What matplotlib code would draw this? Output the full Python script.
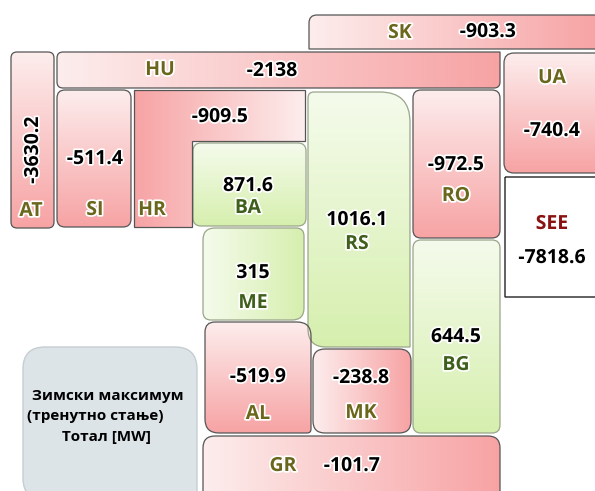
import numpy as np
import matplotlib
matplotlib.use('Agg')
import matplotlib.pyplot as plt
from matplotlib.path import Path
from matplotlib.patches import PathPatch
import matplotlib.patheffects as pe

# data: winter peak balance per country [MW]
codes = ['SK', 'HU', 'AT', 'SI', 'HR', 'BA', 'RS', 'RO', 'UA',
         'ME', 'BG', 'AL', 'MK', 'GR']
values = [-903.3, -2138, -3630.2, -511.4, -909.5, 871.6, 1016.1, -972.5, -740.4,
          315, 644.5, -519.9, -238.8, -101.7]
total_label = 'SEE'
total_value = -7818.6
legend_lines = ['Зимски максимум', '(тренутно стање)', 'Тотал [MW]']

plt.rcParams['font.family'] = ['Open Sans', 'DejaVu Sans']

# layout in pixel coords: box (x0, y0, x1, y1), corner radii (tl, tr, br, bl),
# gradient direction, label pos, value pos
layout = {
    'SK': dict(box=(309, 15, 600, 49), r=(8, 0, 0, 0), g='h',
               lab=(400, 33), val=(488, 32)),
    'HU': dict(box=(57, 52, 500, 88), r=(6, 0, 6, 6), g='h',
               lab=(160, 70), val=(272, 71)),
    'AT': dict(box=(11, 52, 54, 228), r=(6, 6, 6, 6), g='v',
               lab=(31, 211), val=(33, 150)),
    'SI': dict(box=(57, 90, 131, 227), r=(8, 8, 8, 8), g='v',
               lab=(95, 210), val=(95, 159)),
    'BA': dict(box=(193, 143, 306, 226), r=(8, 8, 8, 8), g='v',
               lab=(248, 208), val=(248, 186)),
    'RS': dict(box=(308, 92, 410, 347), r=(6, 30, 0, 18), g='v',
               lab=(357, 244), val=(357, 220)),
    'RO': dict(box=(413, 90, 500, 238), r=(8, 8, 8, 8), g='v',
               lab=(456, 196), val=(456, 165)),
    'UA': dict(box=(504, 53, 600, 173), r=(10, 0, 0, 10), g='v',
               lab=(552, 78), val=(552, 131)),
    'ME': dict(box=(203, 228, 304, 320), r=(12, 8, 12, 8), g='h',
               lab=(253, 303), val=(253, 273)),
    'BG': dict(box=(413, 240, 500, 433), r=(8, 8, 8, 8), g='v',
               lab=(456, 365), val=(456, 337)),
    'AL': dict(box=(205, 322, 311, 433), r=(10, 14, 4, 14), g='v',
               lab=(258, 414), val=(258, 377)),
    'MK': dict(box=(313, 349, 411, 433), r=(12, 12, 12, 12), g='h',
               lab=(361, 413), val=(361, 378)),
    'GR': dict(box=(203, 436, 500, 500), r=(12, 12, 0, 0), g='h',
               lab=(283, 466), val=(352, 466)),
}
# HR is an L-shape
hr_poly = [(134, 90), (305, 90), (305, 141), (192, 141), (192, 227), (134, 227)]
hr_lab, hr_val = (152, 210), (220, 117)

pink = ('#fdeded', '#f7a3a4')
green = ('#f5fbec', '#d6efae')
olive_p = '#6a661c'
olive_g = '#3f5f1c'


def rounded_path(x0, y0, x1, y1, r):
    tl, tr, br, bl = r
    verts = [(x0 + tl, y0), (x1 - tr, y0), (x1, y0), (x1, y0 + tr),
             (x1, y1 - br), (x1, y1), (x1 - br, y1),
             (x0 + bl, y1), (x0, y1), (x0, y1 - bl),
             (x0, y0 + tl), (x0, y0), (x0 + tl, y0)]
    c = [Path.MOVETO, Path.LINETO, Path.CURVE3, Path.CURVE3,
         Path.LINETO, Path.CURVE3, Path.CURVE3,
         Path.LINETO, Path.CURVE3, Path.CURVE3,
         Path.LINETO, Path.CURVE3, Path.CURVE3]
    return Path(verts, c)


def gradient(ax, path, ext, cols, direction, edge):
    x0, y0, x1, y1 = ext
    c0 = np.array(matplotlib.colors.to_rgb(cols[0]))
    c1 = np.array(matplotlib.colors.to_rgb(cols[1]))
    t = np.linspace(0, 1, 200)
    if direction == 'h':
        w = np.tile(t, (200, 1))
    elif direction == 'hr':
        w = np.tile(t[::-1], (200, 1))
    else:
        w = np.tile(t[:, None], (1, 200))
    img = c0 + (c1 - c0) * w[..., None]
    im = ax.imshow(img, extent=(x0, x1, y1, y0), origin='upper',
                   aspect='auto', interpolation='bilinear', zorder=1)
    patch = PathPatch(path, facecolor='none', edgecolor=edge, lw=0.9, zorder=2)
    ax.add_patch(patch)
    im.set_clip_path(patch)


def put(ax, xy, s, color, size=14, rot=0):
    ax.text(xy[0], xy[1], s, color=color, fontsize=size, fontweight='bold',
            ha='center', va='center', rotation=rot, zorder=5,
            path_effects=[pe.withStroke(linewidth=2.5, foreground='white')])


fig = plt.figure(figsize=(5.95, 4.91), dpi=100)
ax = fig.add_axes([0, 0, 1, 1])
ax.set_xlim(0, 595)
ax.set_ylim(491, 0)
ax.axis('off')

for code, v in zip(codes, values):
    if code == 'HR':
        continue
    L = layout[code]
    x0, y0, x1, y1 = L['box']
    pos = v > 0
    cols = green if pos else pink
    edge = '#9aa58a' if pos else '#555555'
    gradient(ax, rounded_path(x0, y0, x1, y1, L['r']), L['box'], cols, L['g'], edge)
    s = f'{v:g}'
    if code == 'AT':
        put(ax, L['val'], s, 'black', rot=90)
    else:
        put(ax, L['val'], s, 'black')
    put(ax, L['lab'], code, olive_g if pos else olive_p)

# HR L-shape
hr_path = Path(hr_poly + [hr_poly[0]],
               [Path.MOVETO] + [Path.LINETO] * (len(hr_poly) - 1) + [Path.CLOSEPOLY])
gradient(ax, hr_path, (134, 90, 305, 227), pink, 'hr', '#555555')
put(ax, hr_val, f'{values[codes.index("HR")]:g}', 'black')
put(ax, hr_lab, 'HR', olive_p)

# SEE total box
see = PathPatch(rounded_path(505, 177, 600, 297, (0, 0, 0, 0)),
                facecolor='white', edgecolor='#222222', lw=1.0, zorder=2)
ax.add_patch(see)
put(ax, (552, 224), total_label, '#8b1212')
put(ax, (552, 258), f'{total_value:g}', 'black')

# legend box
lg = PathPatch(rounded_path(23, 347, 197, 500, (22, 22, 0, 22)),
               facecolor='#dde4e7', edgecolor='#c5ced2', lw=1.0, zorder=2)
ax.add_patch(lg)
for (x, y), s in zip([(108, 396), (95, 416), (106, 437)], legend_lines):
    ax.text(x, y, s, fontsize=11, fontweight='bold', ha='center', va='center',
            color='black', zorder=5)

fig.savefig('out.png', dpi=100)
